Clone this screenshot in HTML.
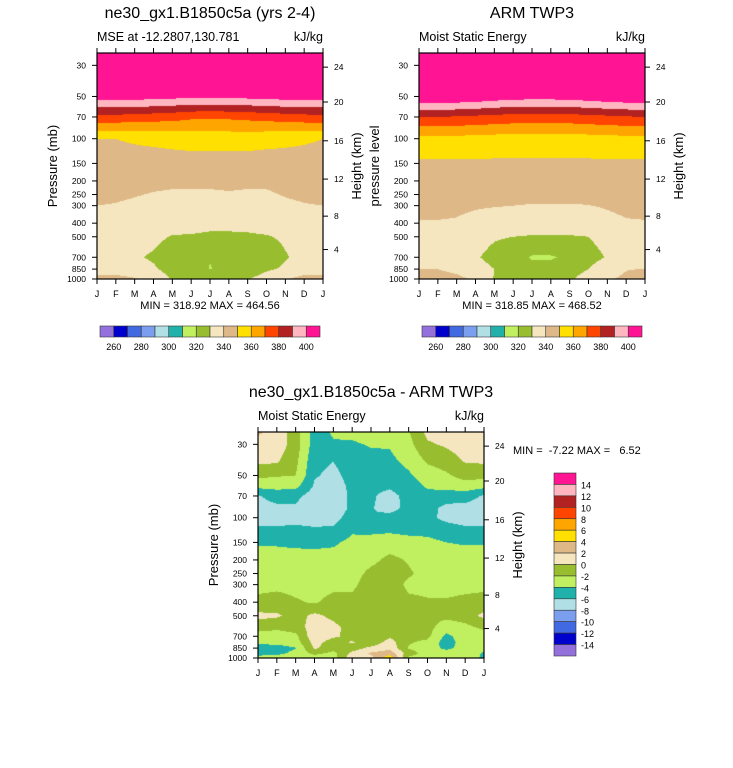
<!DOCTYPE html>
<html><head><meta charset="utf-8">
<style>
body{margin:0;width:733px;height:768px;position:relative;background:#fff;overflow:hidden;font-family:"Liberation Sans",Arial,sans-serif}
canvas{position:absolute}
svg{position:absolute;left:0;top:0}
</style></head>
<body>
<canvas id="c1" width="226" height="226" style="left:97px;top:53px"></canvas>
<canvas id="c2" width="226" height="226" style="left:419px;top:53px"></canvas>
<canvas id="c3" width="226" height="226" style="left:258px;top:432px"></canvas>
<svg id="ov" width="733" height="768"></svg>
<script>
const months = ["J","F","M","A","M","J","J","A","S","O","N","D","J"];
const pLevels = [25,30,50,70,100,150,200,250,300,400,500,700,850,1000];
const modelRows = [
[460,460,460,460,460,460,460,460,460,460,460,460,460],
[440,440,440,440,440,440,440,440,440,440,440,440,440],
[405,405,404.5,404,403,402.5,402,402.5,403,404,404.5,405,405],
[377,377,376,375,374,372,371.5,372,373,374,375.5,376.5,377],
[350,350,351,352,353,354,354,354,354,353,352,351,350],
[347,347,346.5,346,346,346,346,346,346,346,346.5,347,347],
[344,344,343,342,341.5,341.5,341.5,341.5,341.5,341.5,343,344,344],
[342,341.5,340.5,339.5,339,339,339,339.5,339,339,340.5,341.5,342],
[340,339.5,338.5,337,336.5,336.5,336.5,337,336.5,336.5,338.5,339.5,340],
[335,335,335,334,333,332,331.5,331.5,332,333,334,335,335],
[333,333,333,332,329.5,329.5,329,329,329,329.5,331,333,333],
[332,332,331,329,325,323,320.5,323,324,326,329.5,332,332],
[334,334,333,331,327,326,319.5,324,326,329,331,334,334],
[344,344,341,335,329.5,329,329,329,329.5,333,339,344,344]];
const obsRows = [
[470,470,470,470,470,470,470,470,470,470,470,470,470],
[450,450,450,450,450,450,450,450,450,450,450,450,450],
[410,410,409,408,406,404.5,404,404,405,406,408,409,410],
[380,380,379,378,377,376,375.5,375.5,376,377,378,379,380],
[357,357,357,356.5,356,355.5,355.5,355.5,355.5,356,356.5,357,357],
[348.5,348.5,348.5,348.5,348.5,348.5,348.5,348.5,348.5,348.5,348.5,348.5,348.5],
[346,346,346,346,346,346,346,346,346,346,346,346,346],
[344.5,344.5,344,343.5,343,343,342.5,342.5,342.5,342.5,343.5,344,344.5],
[343,343,342,341,340.5,340,339.5,339.5,339.5,339.8,341,342.5,343],
[339.3,339.3,339,337,335,334,333.5,333.5,333.5,334,337,339,339.3],
[337,337,336,334,331,330,329.5,329.5,329.5,330,333,336,337],
[335,335,334,331,327,324,319,319,322,327,330.5,334,335],
[340,340,338,334,330,327,323,323,327,330,335,339.5,340],
[343,343,342,339,329.5,328,328,328,329,333,339,342,351]];
const dLevels = [25,30,40,50,60,70,85,100,125,150,200,250,300,400,500,600,700,775,850,925,1000];
const diffRows = [
[2.2,1.2,-1,-5,-3.8,-3.5,-3,-2.5,-2.2,0.5,0.8,1.5,2.0],
[1.5,1.2,-1,-5,-4.2,-4.3,-3.8,-3.8,-2.6,-0.3,0.3,1.2,1.3],
[0.3,0.2,-1.5,-5.5,-6,-5,-4.8,-4.5,-3.5,-1.8,-1.2,0.1,0.2],
[-1.5,-1.8,-2,-5.8,-6.5,-5.3,-5.3,-5.2,-4.3,-3,-2.3,-1.2,-1.3],
[-3.5,-3.5,-3.5,-6.3,-7,-5.5,-5.6,-5.8,-5,-3.8,-3.5,-3,-3.5],
[-6.2,-5,-5.5,-7,-7.5,-5.5,-5.8,-6.5,-5.5,-4.5,-5,-5,-6.3],
[-7,-6.5,-6.2,-7.5,-7.5,-5.5,-5.9,-6.5,-5.6,-5.3,-6.5,-6.7,-7],
[-6.8,-6.8,-6.5,-7,-6.8,-5,-6,-5.5,-5.5,-5.5,-6.5,-6.8,-6.8],
[-5.5,-5.5,-5.5,-5.5,-5.5,-4.2,-4.3,-4.2,-4.5,-4.5,-5,-5.5,-5.5],
[-4.3,-4.3,-4.5,-4.5,-4.3,-3.5,-3.3,-3,-3.2,-3.5,-4,-4.2,-4.2],
[-3,-3,-3,-3.2,-3.2,-3,-2.5,-1.5,-2.2,-3,-3,-3,-3],
[-2.8,-2.8,-2.8,-2.8,-2.8,-2.8,-1.5,-1,-1.7,-2.8,-2.8,-2.8,-2.8],
[-2.6,-2.5,-2.6,-2.5,-2.4,-2.5,-0.8,-0.8,-2.5,-2.6,-2.7,-2.6,-2.5],
[-1.5,-1.2,-1.8,-2.2,-1.5,-1.3,-0.8,-0.5,-1.5,-1.8,-1.8,-1.5,-1.3],
[0.5,0.3,-0.8,0.5,-0.5,-1.5,-1.2,-0.8,-1,-1.5,-1.5,-1,0.5],
[-1,-1.5,-1,1,0.5,-0.8,-1.3,-1,-0.5,-1.3,-3,-2.5,-1.5],
[-3,-3,-2.5,1.5,0.3,-0.5,-1.5,-0.3,-1.3,-1.5,-4.5,-3,-3],
[-3.5,-3.5,-3,0.8,-1,0.2,-1.2,0.8,-1.8,-2.5,-5,-3,-3],
[-5,-4.8,-4.1,0.3,-1.2,-1,0.5,1.5,-2.2,-3,-4.5,-3.2,-3.5],
[-5,-4.5,-3.5,-1.5,-2.5,0.5,2.3,3,-1,-3,-3,-3,-4.2],
[-3,-3,-3,-3,-3,1.5,1.5,5.5,-2.5,-3,-3,-3.5,-4.2]];
const mseBounds = [260,270,280,290,300,310,320,330,340,350,360,370,380,390,400];
const diffBounds = [-14,-12,-10,-8,-6,-4,-2,0,2,4,6,8,10,12,14];
const palette = ["#9370DB","#0000CD","#4169E1","#7B9FEE","#B0E0E6","#20B2AA","#C0F060","#98BE30","#F5E6C0","#DEB887","#FFE000","#FFA500","#FF4500","#B22222","#FFB6C1","#FF1493"];
const mseLabels = ["260","280","300","320","340","360","380","400"];
const diffLabels = ["14","12","10","8","6","4","2","0","-2","-4","-6","-8","-10","-12","-14"];
const pTicks = [30,50,70,100,150,200,250,300,400,500,700,850,1000];
const hTickLabels = ["4","8","12","16","20","24"];
const hTickPress = [616.6,356.5,194,103.5,54.75,30.9];

const PTOP=24.5, PBOT=1000, W=226, H=226;
function yOfP(p){return H*(Math.log(p)-Math.log(PTOP))/(Math.log(PBOT)-Math.log(PTOP));}
function xOfM(m){return W*m/12;}
function sample(levs,rows,m,p){
  let i=0; if(p<=levs[0]){i=0;p=levs[0];}
  else if(p>=levs[levs.length-1]){i=levs.length-2;p=levs[levs.length-1];}
  else{while(levs[i+1]<p)i++;}
  const f=(Math.log(p)-Math.log(levs[i]))/(Math.log(levs[i+1])-Math.log(levs[i]));
  const j=Math.min(11,Math.floor(m)), g=m-j;
  const a=rows[i][j]*(1-g)+rows[i][j+1]*g, b=rows[i+1][j]*(1-g)+rows[i+1][j+1]*g;
  return a*(1-f)+b*f;
}
function hex(c){return [parseInt(c.substr(1,2),16),parseInt(c.substr(3,2),16),parseInt(c.substr(5,2),16)];}
function fill(id,levs,rows,bounds){
  const cv=document.getElementById(id),ctx=cv.getContext('2d'),img=ctx.createImageData(W,H);
  const rgb=palette.map(hex);
  for(let py=0;py<H;py++){
    const p=Math.exp(Math.log(PTOP)+(py+0.5)/H*(Math.log(PBOT)-Math.log(PTOP)));
    for(let px=0;px<W;px++){
      const v=sample(levs,rows,(px+0.5)/W*12,p);
      let k=0; while(k<bounds.length&&v>=bounds[k])k++;
      const c=rgb[k],o=(py*W+px)*4;
      img.data[o]=c[0];img.data[o+1]=c[1];img.data[o+2]=c[2];img.data[o+3]=255;
    }
  }
  ctx.putImageData(img,0,0);
}
fill('c1',pLevels,modelRows,mseBounds);
fill('c2',pLevels,obsRows,mseBounds);
fill('c3',dLevels,diffRows,diffBounds);

const NS="http://www.w3.org/2000/svg", svg=document.getElementById('ov');
function el(tag,attrs,text){const e=document.createElementNS(NS,tag);for(const k in attrs)e.setAttribute(k,attrs[k]);if(text!==undefined)e.textContent=text;svg.appendChild(e);return e;}
function txt(x,y,s,size,anchor,name,rot){
  const a={x:x,y:y,'font-size':size,'text-anchor':anchor||'start',fill:'#000','font-family':'"Liberation Sans",Arial,sans-serif',style:'white-space:pre'};
  if(rot)a.transform='rotate(-90 '+x+' '+y+')';
  const t=el('text',a,s);
  
  
  return t;
}
function panel(x0,y0,title,sub,leftLbl,minmax,key){
  txt(x0+W/2,y0-35,title,16,'middle',key+'-title');
  txt(x0,y0-12,sub,12.5,'start',key+'-subtitle');
  txt(x0+W,y0-12,'kJ/kg',12.5,'end',key+'-units');
  const b=el('rect',{x:x0,y:y0,width:W,height:H,fill:'none',stroke:'#000','stroke-width':1.2});
  
  
  months.forEach((m,i)=>{
    const x=x0+xOfM(i);
    const t1=el('line',{x1:x,x2:x,y1:y0,y2:y0-5,stroke:'#000','stroke-width':1});
    
    
    const t2=el('line',{x1:x,x2:x,y1:y0+H,y2:y0+H+5,stroke:'#000','stroke-width':1});
    
    
    txt(x,y0+H+18,m,9,'middle',key+'-month-label');
  });
  pTicks.forEach(p=>{
    const y=y0+yOfP(p);
    const t=el('line',{x1:x0,x2:x0-5,y1:y,y2:y,stroke:'#000','stroke-width':1});
    
    
    txt(x0-11,y+3,String(p),8.5,'end',key+'-pressure-label');
  });
  hTickPress.forEach((p,i)=>{
    const y=y0+yOfP(p);
    const t=el('line',{x1:x0+W,x2:x0+W+5,y1:y,y2:y,stroke:'#000','stroke-width':1});
    
    
    txt(x0+W+11,y+3,hTickLabels[i],8.5,'start',key+'-height-label');
  });
  txt(x0-40,y0+H/2,leftLbl,13,'middle',key+'-y-axis-title',true);
  txt(x0+W+38,y0+H/2,'Height (km)',13,'middle',key+'-right-axis-title',true);
  if(minmax)txt(x0+W/2,y0+H+30,minmax,11,'middle',key+'-min-max');
}
panel(97,53,'ne30_gx1.B1850c5a (yrs 2-4)','MSE at -12.2807,130.781','Pressure (mb)','MIN = 318.92 MAX = 464.56','model');
panel(419,53,'ARM TWP3','Moist Static Energy','pressure level','MIN = 318.85 MAX = 468.52','obs');
panel(258,432,'ne30_gx1.B1850c5a - ARM TWP3','Moist Static Energy','Pressure (mb)',null,'diff');
txt(513,454,'MIN =  -7.22 MAX =   6.52',11,'start','diff-min-max');

function hbar(x0,key){
  const bw=220/palette.length;
  palette.forEach((c,i)=>{
    const r=el('rect',{x:x0+i*bw,y:326,width:bw,height:11,fill:c,stroke:'#333','stroke-width':0.6});
    
    
  });
  mseLabels.forEach((l,i)=>txt(x0+(1+2*i)*bw,350,l,9,'middle',key+'-colorbar-label'));
}
hbar(100,'model');hbar(422,'obs');
const vh=183/palette.length;
palette.slice().reverse().forEach((c,i)=>{
  const r=el('rect',{x:554,y:473+i*vh,width:22,height:vh,fill:c,stroke:'#333','stroke-width':0.6});
  
  
});
diffLabels.forEach((l,i)=>txt(581,473+(i+1)*vh+4,l,9,'start','diff-colorbar-label'));
</script>
</body></html>
